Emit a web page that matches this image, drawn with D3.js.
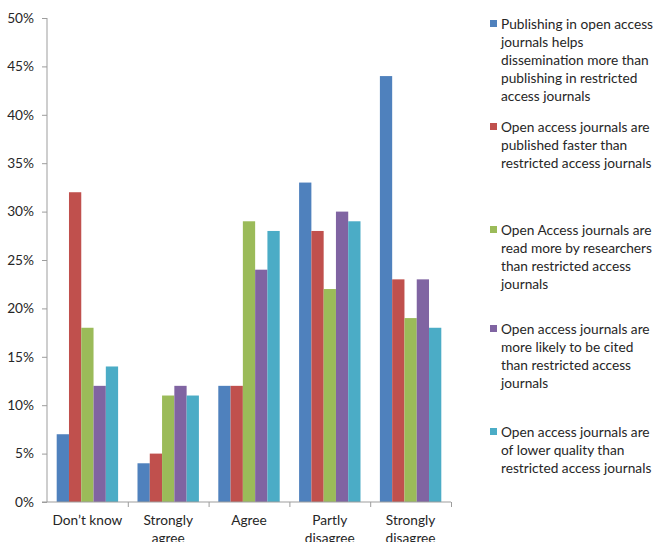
<!DOCTYPE html>
<html>
<head>
<meta charset="utf-8">
<script src="https://cdn.jsdelivr.net/npm/d3@7"></script>
<style>
  html, body { margin: 0; padding: 0; background: #fff; }
  svg { display: block; }
  text { font-family: Lato, "Open Sans", sans-serif; fill: #262626; }
</style>
</head>
<body>
<svg id="chart" width="656" height="542"></svg>
<script>
// ---- data ----
const categories = ["Don\u2019t know", "Strongly agree", "Agree", "Partly disagree", "Strongly disagree"];
const categoryLines = [["Don\u2019t know"], ["Strongly", "agree"], ["Agree"], ["Partly", "disagree"], ["Strongly", "disagree"]];
const seriesNames = [
  "Publishing in open access journals helps dissemination more than publishing in restricted access journals",
  "Open access journals are published faster than restricted access journals",
  "Open Access journals are read more by researchers than restricted access journals",
  "Open access journals are more likely to be cited than restricted access journals",
  "Open access journals are of lower quality than restricted access journals"
];
const legendLines = [
  ["Publishing in open access", "journals helps", "dissemination more than", "publishing in restricted", "access journals"],
  ["Open access journals are", "published faster than", "restricted access journals"],
  ["Open Access journals are", "read more by researchers", "than restricted access", "journals"],
  ["Open access journals are", "more likely to be cited", "than restricted access", "journals"],
  ["Open access journals are", "of lower quality than", "restricted access journals"]
];
const dissemination = [7, 4, 12, 33, 44];
const fasterPublished = [32, 5, 12, 28, 23];
const readMore = [18, 11, 29, 22, 19];
const moreCited = [12, 12, 24, 30, 23];
const lowerQuality = [14, 11, 28, 29, 18];
const seriesValues = [dissemination, fasterPublished, readMore, moreCited, lowerQuality];
const yTicks = [0, 5, 10, 15, 20, 25, 30, 35, 40, 45, 50];
const colors = ["#4F81BD", "#C0504D", "#9BBB59", "#8064A2", "#4BACC6"];

// ---- layout ----
const svg = d3.select("#chart");
const plotLeft = 47, plotRight = 451, plotTop = 18, plotBottom = 502;
const axisColor = "#9d9d9d";

// font size calibrated to the reference legend text width
const probe = svg.append("text").attr("font-size", 12).text("read more by researchers");
const w12 = probe.node().getComputedTextLength();
probe.remove();
const fs = Math.max(10, Math.min(14, 12 * 151 / w12));

const y = d3.scaleLinear().domain([0, 50]).range([plotBottom, plotTop]);
const x0 = d3.scaleBand().domain(categories).range([plotLeft, plotRight]).paddingInner(0.24).paddingOuter(0.12);
const x1 = d3.scaleBand().domain(d3.range(seriesValues.length)).range([0, x0.bandwidth()]).padding(0);
const xEdge = d3.scaleLinear().domain([0, categories.length]).range([plotLeft, plotRight]);

// bars
const groups = svg.append("g").selectAll("g")
  .data(categories).join("g")
  .attr("transform", d => `translate(${x0(d)},0)`);
groups.selectAll("rect")
  .data((d, ci) => seriesValues.map((vals, si) => ({ si, v: vals[ci] })))
  .join("rect")
  .attr("x", d => x1(d.si))
  .attr("width", x1.bandwidth())
  .attr("y", d => y(d.v))
  .attr("height", d => y(0) - y(d.v))
  .attr("fill", d => colors[d.si]);

// y axis
const yAxis = svg.append("g").attr("transform", `translate(${plotLeft},0)`)
  .call(d3.axisLeft(y).tickValues(yTicks).tickSize(5).tickPadding(8).tickFormat(d => d + "%"));
yAxis.select(".domain").attr("stroke", axisColor).attr("d", `M0,${plotTop}V${plotBottom}`);
yAxis.selectAll(".tick line").attr("stroke", axisColor);
yAxis.selectAll(".tick text").attr("font-size", fs).attr("font-family", null).attr("fill", "#262626");

// x axis (ticks at category boundaries)
const xAxis = svg.append("g").attr("transform", `translate(0,${plotBottom})`)
  .call(d3.axisBottom(xEdge).tickValues(d3.range(1, categories.length + 1)).tickSize(5).tickFormat(""));
xAxis.select(".domain").attr("stroke", axisColor).attr("d", `M${plotLeft - 5},0H${plotRight}`);
xAxis.selectAll(".tick line").attr("stroke", axisColor);

// category labels
const catLabels = svg.append("g").selectAll("text")
  .data(categories).join("text")
  .attr("x", d => x0(d) + x0.bandwidth() / 2)
  .attr("y", 525)
  .attr("text-anchor", "middle")
  .attr("font-size", fs);
catLabels.each(function(d, i) {
  const t = d3.select(this);
  categoryLines[i].forEach((line, li) => {
    t.append("tspan").attr("x", x0(d) + x0.bandwidth() / 2).attr("dy", li === 0 ? 0 : 18).text(line);
  });
});

// legend
const legendTops = [24, 127, 230, 329, 432];
const legend = svg.append("g");
seriesNames.forEach((name, i) => {
  const g = legend.append("g");
  g.append("rect").attr("x", 490).attr("y", legendTops[i] - 4).attr("width", 7).attr("height", 7).attr("fill", colors[i]);
  const t = g.append("text").attr("font-size", fs).attr("x", 501).attr("y", legendTops[i] + 5);
  legendLines[i].forEach((line, li) => {
    t.append("tspan").attr("x", 501).attr("dy", li === 0 ? 0 : 18).text(line);
  });
});
</script>
</body>
</html>
